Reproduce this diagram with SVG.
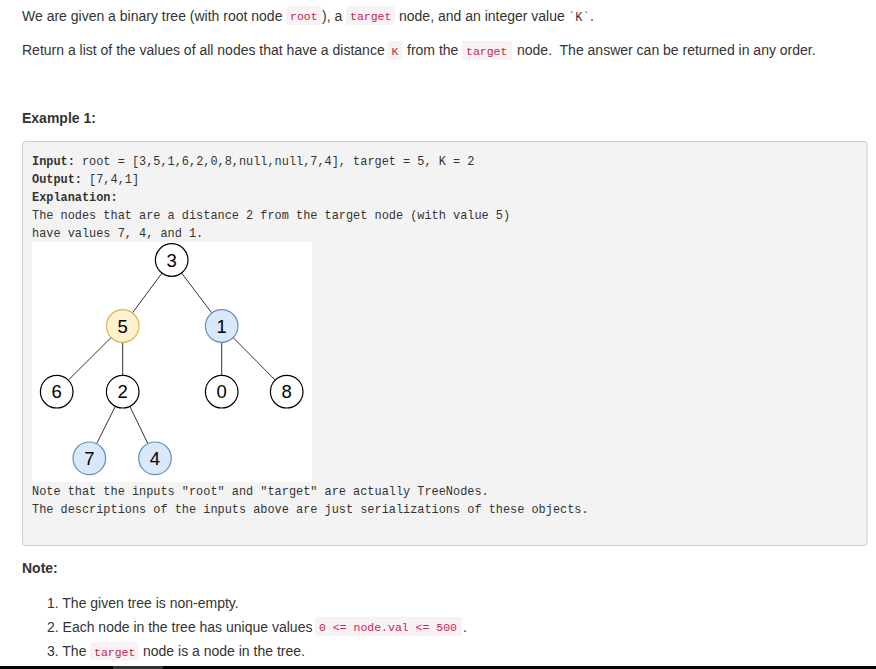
<svg xmlns="http://www.w3.org/2000/svg" width="876" height="669" viewBox="0 0 876 669">
<style>
.t{font-family:"Liberation Sans",Arial,sans-serif;font-size:14px;fill:#333;white-space:pre}
.b{font-family:"Liberation Sans",Arial,sans-serif;font-size:14px;font-weight:bold;fill:#333}
.m{font-family:"Liberation Mono","DejaVu Sans Mono",monospace;font-size:11.9px;fill:#333;white-space:pre}
.c{font-family:"Liberation Mono","DejaVu Sans Mono",monospace;font-size:11.5px;fill:#c7254e;white-space:pre}
.cb{fill:#f9f2f4}
.n{stroke-width:1.2}
.w{fill:#fff;stroke:#000}
.y{fill:#fff2cc;stroke:#d6b656}
.bl{fill:#dae8fc;stroke:#6c8ebf}
.nl{font-family:"Liberation Sans",Arial,sans-serif;font-size:18.5px;fill:#000;text-anchor:middle}
.e{stroke:#333;stroke-width:1}
</style>
<rect width="876" height="669" fill="#fff"/>
<!-- header text -->
<text class="t" x="22" y="21">We are given a binary tree (with root node</text>
<rect class="cb" x="286" y="6" width="35.5" height="19" rx="3"/>
<text class="c" x="290" y="20">root</text>
<text class="t" x="322" y="21">), a</text>
<rect class="cb" x="346" y="6" width="49" height="19" rx="3"/>
<text class="c" x="350" y="20">target</text>
<text class="t" x="399" y="21">node, and an integer value</text>
<text font-family="Liberation Mono,monospace" font-size="12" fill="#333" x="568" y="21">`K`</text>
<text class="t" x="590" y="21">.</text>

<text class="t" x="22" y="55">Return a list of the values of all nodes that have a distance</text>
<rect class="cb" x="387.5" y="41" width="15" height="19" rx="3"/>
<text class="c" x="391.5" y="55">K</text>
<text class="t" x="407" y="55">from the</text>
<rect class="cb" x="462" y="41" width="50" height="19" rx="3"/>
<text class="c" x="466" y="55">target</text>
<text class="t" x="517" y="55">node.  The answer can be returned in any order.</text>

<text class="b" x="22" y="123">Example 1:</text>

<!-- example panel -->
<rect x="22.5" y="141.5" width="844.5" height="404" rx="3" fill="#f3f3f3" stroke="#ccc"/>
<text class="m" x="32" y="164.5"><tspan font-weight="bold">Input:</tspan> root = [3,5,1,6,2,0,8,null,null,7,4], target = 5, K = 2</text>
<text class="m" x="32" y="182.5"><tspan font-weight="bold">Output:</tspan> [7,4,1]</text>
<text class="m" x="32" y="200.5" font-weight="bold">Explanation:</text>
<text class="m" x="32" y="218.5">The nodes that are a distance 2 from the target node (with value 5)</text>
<text class="m" x="32" y="236.5">have values 7, 4, and 1.</text>
<rect x="32" y="242" width="280" height="240" fill="#fff"/>

<g id="connectors">
<line class="e" x1="171.7" y1="260" x2="122.7" y2="326"/>
<line class="e" x1="171.7" y1="260" x2="221.7" y2="326"/>
<line class="e" x1="122.7" y1="326" x2="56.7" y2="391.7"/>
<line class="e" x1="122.7" y1="326" x2="122.7" y2="391.7"/>
<line class="e" x1="221.7" y1="326" x2="221.7" y2="391.7"/>
<line class="e" x1="221.7" y1="326" x2="286.7" y2="391.7"/>
<line class="e" x1="122.7" y1="391.7" x2="89.3" y2="458.3"/>
<line class="e" x1="122.7" y1="391.7" x2="155" y2="458.3"/>
</g>
<g id="node-3"><circle class="n w" cx="171.7" cy="260" r="16.3"/><text class="nl" x="171.7" y="266.7">3</text></g>
<g id="node-5"><circle class="n y" cx="122.7" cy="326" r="16.3"/><text class="nl" x="122.7" y="332.7">5</text></g>
<g id="node-1"><circle class="n bl" cx="221.7" cy="326" r="16.3"/><text class="nl" x="221.7" y="332.7">1</text></g>
<g id="node-6"><circle class="n w" cx="56.7" cy="391.7" r="16.3"/><text class="nl" x="56.7" y="398.4">6</text></g>
<g id="node-2"><circle class="n w" cx="122.7" cy="391.7" r="16.3"/><text class="nl" x="122.7" y="398.4">2</text></g>
<g id="node-0"><circle class="n w" cx="221.7" cy="391.7" r="16.3"/><text class="nl" x="221.7" y="398.4">0</text></g>
<g id="node-8"><circle class="n w" cx="286.7" cy="391.7" r="16.3"/><text class="nl" x="286.7" y="398.4">8</text></g>
<g id="node-7"><circle class="n bl" cx="89.3" cy="458.3" r="16.3"/><text class="nl" x="89.3" y="465">7</text></g>
<g id="node-4"><circle class="n bl" cx="155" cy="458.3" r="16.3"/><text class="nl" x="155" y="465">4</text></g>

<text class="m" x="32" y="495.3">Note that the inputs "root" and "target" are actually TreeNodes.</text>
<text class="m" x="32" y="513.3">The descriptions of the inputs above are just serializations of these objects.</text>

<!-- notes -->
<text class="b" x="22" y="572.5">Note:</text>
<text class="t" x="47" y="607.7">1. The given tree is non-empty.</text>
<text class="t" x="47" y="631.7">2. Each node in the tree has unique values</text>
<rect class="cb" x="315" y="617" width="147" height="19" rx="3"/>
<text class="c" x="319" y="631">0 &lt;= node.val &lt;= 500</text>
<text class="t" x="463" y="631.7">.</text>
<text class="t" x="47" y="656">3. The</text>
<rect class="cb" x="90" y="642" width="48.5" height="18.5" rx="3"/>
<text class="c" x="94" y="655.5">target</text>
<text class="t" x="143" y="656">node is a node in the tree.</text>

<rect x="0" y="666" width="876" height="3" fill="#000"/>
<rect x="113" y="666" width="50" height="3" fill="#333"/>
</svg>
